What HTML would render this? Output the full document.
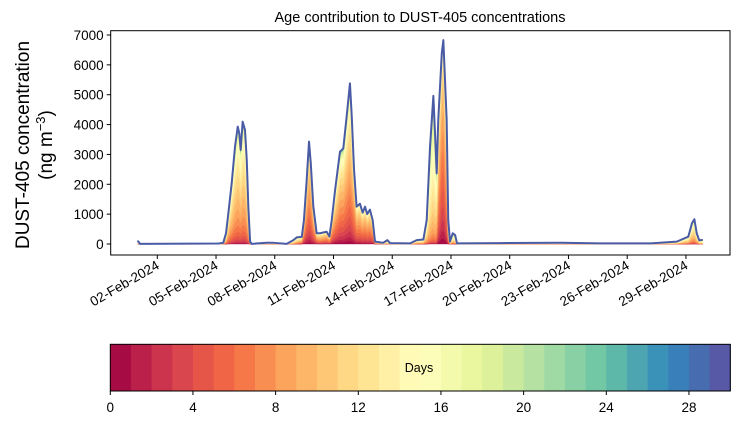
<!DOCTYPE html>
<html><head><meta charset="utf-8"><style>
body{margin:0;background:#fff}
svg{display:block;font-family:"Liberation Sans","DejaVu Sans",sans-serif}
</style></head><body>
<svg id="chart" width="739" height="425" viewBox="0 0 739 425">
<rect width="739" height="425" fill="#fff"/>
<text x="420" y="22" text-anchor="middle" font-size="14.5">Age contribution to DUST-405 concentrations</text>
<g>
<text transform="translate(29,145) rotate(-90)" text-anchor="middle" font-size="19">DUST-405 concentration</text>
<text transform="translate(52,145) rotate(-90)" text-anchor="middle" font-size="19">(ng m<tspan dy="-7" font-size="13">−3</tspan><tspan dy="7">)</tspan></text>
</g>
<g id="layers"></g>
<g id="axes"></g>
<g id="cbar"></g>
</svg>
<script>
const days=[0.0,0.12,4.12,4.37,4.51,4.63,4.80,4.97,5.11,5.19,5.26,5.36,5.48,5.57,5.65,5.74,5.82,6.59,6.93,7.61,7.95,8.12,8.38,8.49,8.63,8.75,8.84,8.97,9.14,9.31,9.65,9.79,9.91,10.08,10.33,10.50,10.67,10.84,10.93,11.05,11.18,11.35,11.49,11.61,11.72,11.86,12.00,12.12,12.54,12.75,12.89,13.91,14.25,14.59,14.76,14.93,15.10,15.18,15.27,15.35,15.53,15.61,15.78,15.86,15.95,16.09,16.21,16.31,18.5,21.6,23.6,26.2,27.53,28.12,28.31,28.43,28.55,28.68,28.86];
const totals=[110,5,15,40,360,1030,2030,3260,3930,3700,3150,4100,3820,2810,1250,80,5,40,40,5,130,220,240,800,2140,3430,2700,1250,360,360,410,250,800,1800,3090,3200,4260,5380,4300,2480,1250,1350,1050,1250,1000,1150,800,80,40,130,30,20,130,150,800,3260,4960,3800,2370,4150,6380,6830,4150,800,80,360,300,20,30,40,20,20,80,245,700,830,360,120,140];
const meanAge=[14,14,14,14,12,11,11,11,11,11,11,11,11,11,11,12,14,14,14,14,13,12,10,8,8,8,8,8,8,9,8,8,8,9,9,9,9,9,9,8,8,8,8,8,8,8,8,10,14,14,14,14,12,12,13,14,14,14,12,9,7,7,9,11,14,14,14,14,14,14,14,14,13,12,12,12,12,13,14];
const ageSpread=[5,5,5,5,4,4,4,4,4,4,4,4,4,4,4,4,5,5,5,5,4,4,4,4,4,4,4,4,4,4,4,4,4,5,5,5,5,5,5,4,4,4,4,4,4,4,4,4,5,5,5,5,4,4,4,4,4,4,4,4,4,4,4,4,5,5,5,5,5,5,5,5,4,4,4,4,4,4,4];
const yTicks=[0,1000,2000,3000,4000,5000,6000,7000];
const xTickDays=[1,4,7,10,13,16,19,22,25,28];
const xTickLabels=["02-Feb-2024","05-Feb-2024","08-Feb-2024","11-Feb-2024","14-Feb-2024","17-Feb-2024","20-Feb-2024","23-Feb-2024","26-Feb-2024","29-Feb-2024"];
const cbTicks=[0,4,8,12,16,20,24,28];
const nAges=30;

const NS="http://www.w3.org/2000/svg";
const PL=110.7,PR=730,PT=30.7,PB=255;
const xS=d=>137.7+d*19.58;
const yS=v=>244-v*0.029857;
const spectral=["#9e0142","#d53e4f","#f46d43","#fdae61","#fee08b","#ffffbf","#e6f598","#abdda4","#66c2a5","#3288bd","#5e4fa2"];
function hex(h){return [1,3,5].map(i=>parseInt(h.substr(i,2),16));}
function cmap(t){const p=t*10,i=Math.min(9,Math.floor(p)),f=p-i;const a=hex(spectral[i]),b=hex(spectral[i+1]);return "rgb("+a.map((c,j)=>Math.round(c+(b[j]-c)*f)).join(",")+")";}
function mk(tag,at,parent){const e=document.createElementNS(NS,tag);for(const k in at)e.setAttribute(k,at[k]);parent.appendChild(e);return e;}

const layersG=document.getElementById('layers');
const cum=days.map(()=>0);
const weights=days.map((d,i)=>{const w=[];let s=0;for(let k=0;k<nAges;k++){const z=(k+0.5-meanAge[i])/ageSpread[i];const v=Math.exp(-z*z/2)+0.02;w.push(v);s+=v;}return w.map(v=>v/s);});
for(let k=0;k<nAges;k++){
  const lower=cum.slice();
  days.forEach((d,i)=>{cum[i]+=totals[i]*weights[i][k];});
  let pts=days.map((d,i)=>xS(d).toFixed(2)+","+yS(cum[i]).toFixed(2));
  for(let i=days.length-1;i>=0;i--)pts.push(xS(days[i]).toFixed(2)+","+yS(lower[i]).toFixed(2));
  const p=mk('polygon',{points:pts.join(" "),fill:cmap((k+0.5)/nAges),stroke:cmap((k+0.5)/nAges),'stroke-width':0.4},layersG);
  
  
}
const topLine=mk('polyline',{points:days.map((d,i)=>xS(d).toFixed(2)+","+yS(totals[i]).toFixed(2)).join(" "),fill:"none",stroke:"#4a5ba6",'stroke-width':2,'stroke-linejoin':'round'},layersG);



const ax=document.getElementById('axes');
const frame=mk('rect',{x:PL,y:PT,width:PR-PL,height:PB-PT,fill:"none",stroke:"#000",'stroke-width':1},ax);


yTicks.forEach(v=>{
  const y=yS(v);
  mk('line',{x1:PL,x2:PL-4,y1:y,y2:y,stroke:"#000"},ax);
  const t=mk('text',{x:PL-7,y:y+5,'text-anchor':'end','font-size':13.5},ax);t.textContent=v;
  
  
});
xTickDays.forEach((d,i)=>{
  const x=xS(d);
  mk('line',{x1:x,x2:x,y1:PB,y2:PB+4,stroke:"#000"},ax);
  const t=mk('text',{transform:`translate(${x+3},${PB+13}) rotate(-30)`,'text-anchor':'end','font-size':13.5},ax);t.textContent=xTickLabels[i];
  
  
});

const cb=document.getElementById('cbar');
const CL=110.3,CR=730.3,CT=344.3,CB=391;
const cx=v=>CL+v*(CR-CL)/nAges;
for(let k=0;k<nAges;k++){
  const r=mk('rect',{x:cx(k),y:CT,width:cx(k+1)-cx(k)+0.5,height:CB-CT,fill:cmap((k+0.5)/nAges)},cb);
  
  
}
mk('rect',{x:CL,y:CT,width:CR-CL,height:CB-CT,fill:"none",stroke:"#000",'stroke-width':1},cb);
cbTicks.forEach(v=>{
  const x=cx(v);
  mk('line',{x1:x,x2:x,y1:CB,y2:CB+4,stroke:"#000"},cb);
  const t=mk('text',{x:x,y:CB+21,'text-anchor':'middle','font-size':13.5},cb);t.textContent=v;
  
  
});
const dl=mk('text',{x:419,y:372,'text-anchor':'middle','font-size':12.5},cb);dl.textContent="Days";


</script>
</body></html>
